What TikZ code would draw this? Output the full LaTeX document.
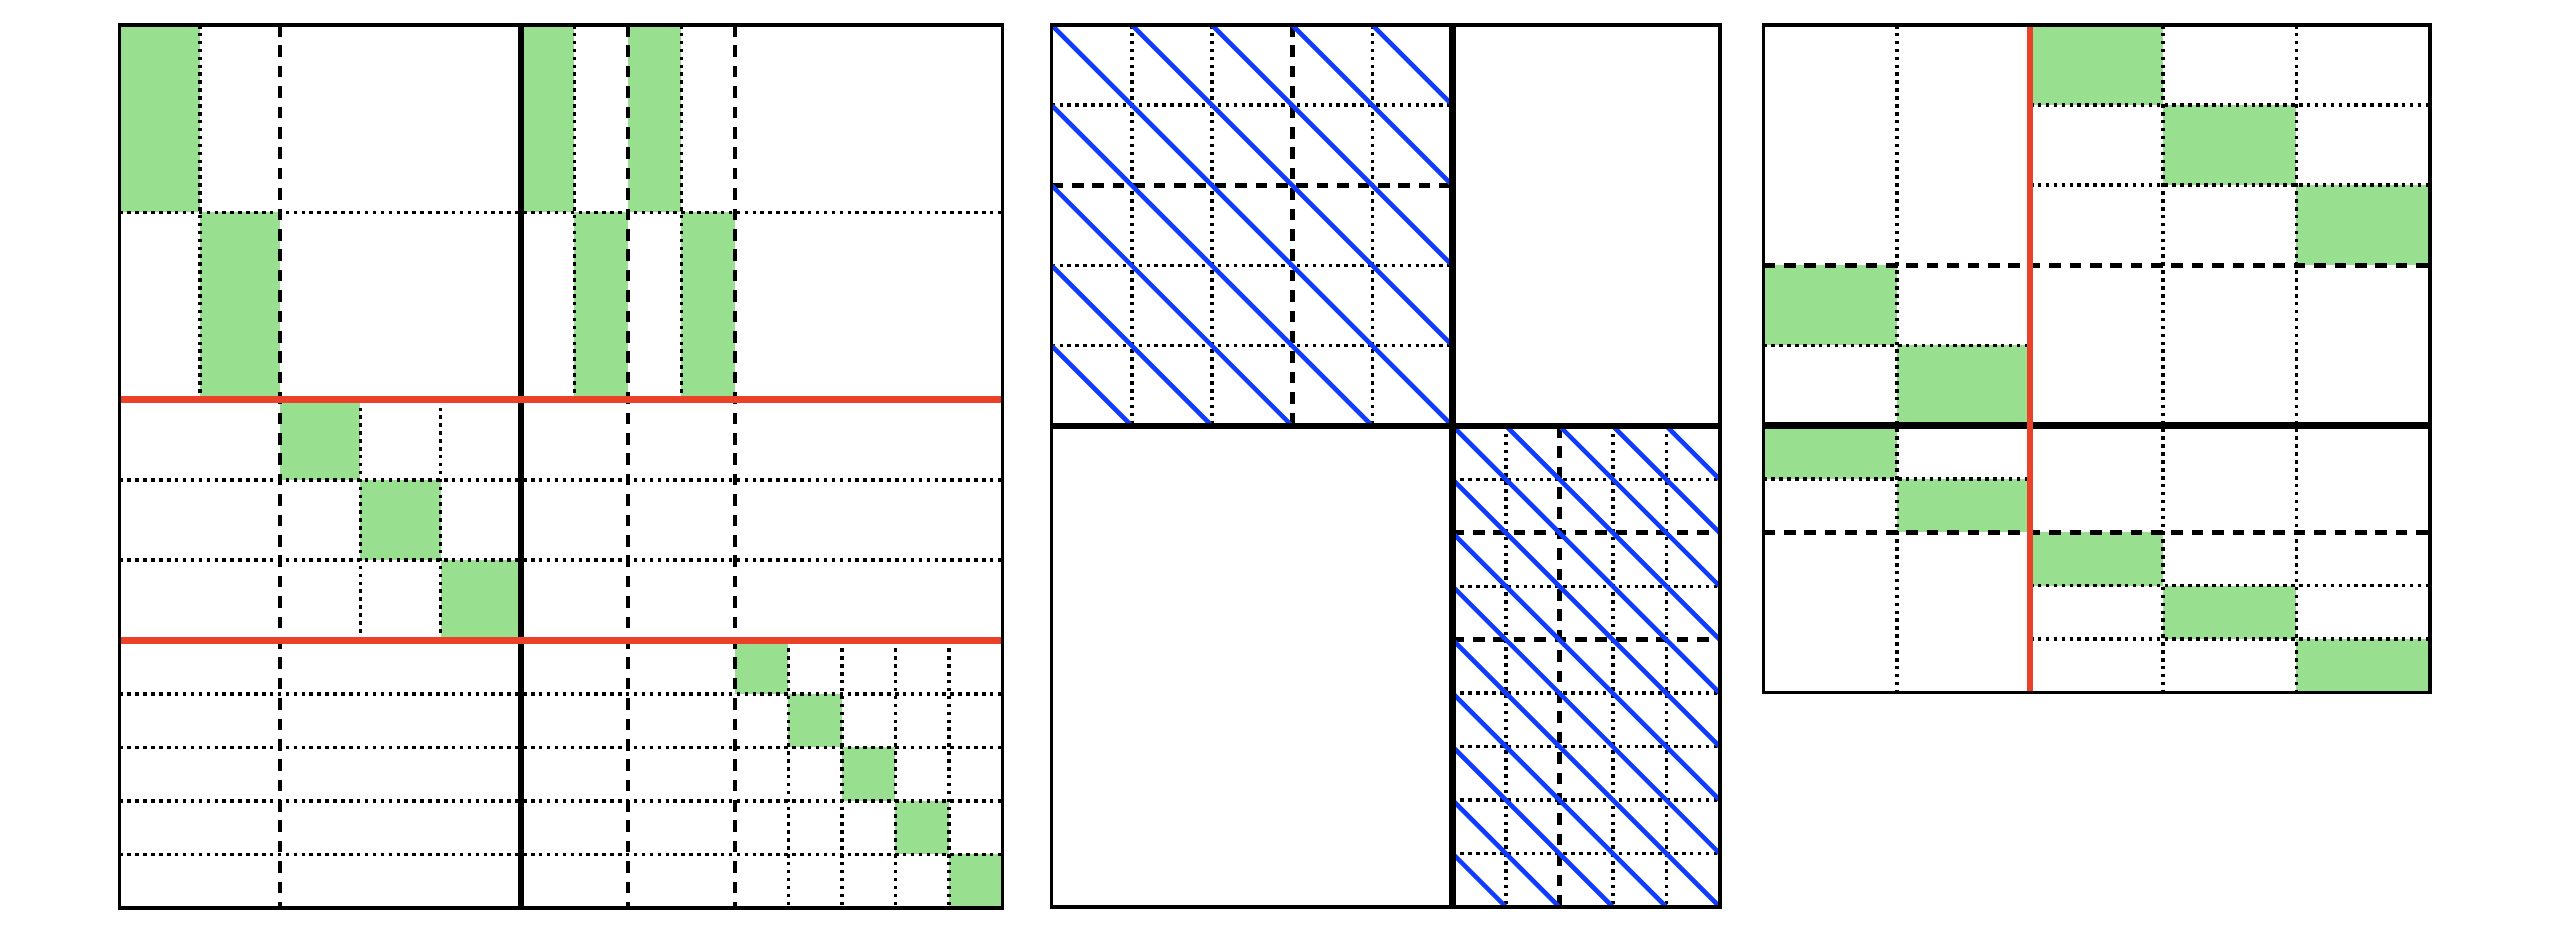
\documentclass[tikz,border=0pt]{standalone}
\definecolor{mygreen}{RGB}{152,224,144}
\definecolor{myred}{RGB}{234,65,40}
\definecolor{myblue}{RGB}{16,60,255}
\tikzset{
  dotln/.style={line width=1.0pt, dash pattern=on 1.0pt off 1.25pt},
  dashln/.style={line width=1.35pt, dash pattern=on 3.3pt off 2.5pt},
  bord/.style={line width=1.05pt},
  thickln/.style={line width=1.8pt},
  redln/.style={line width=1.8pt, draw=myred},
  blueln/.style={line width=1.3pt, draw=myblue},
  gfill/.style={fill=mygreen}
}
\begin{document}
\begin{tikzpicture}[x=0.01cm,y=-0.01cm]
\useasboundingbox (0,0) rectangle (2558,924);
\fill[white] (0,0) rectangle (2558,924);

% ---------- Panel 1 ----------
\begin{scope}[shift={(1.195cm,-0.25cm)}, x=0.2674cm, y=-0.2674cm]
  \foreach \a/\b/\c/\d in {0/0/3/7, 15/0/17/7, 19/0/21/7, 3/7/6/14, 17/7/19/14, 21/7/23/14,
      6/14/9/17, 9/17/12/20, 12/20/15/23, 23/23/25/25, 25/25/27/27, 27/27/29/29, 29/29/31/31, 31/31/33/33}
    \fill[gfill] (\a,\b) rectangle (\c,\d);
  \foreach \y in {7,17,20,25,27,29,31} \draw[dotln] (0,\y) -- (33,\y);
  \foreach \x in {3,17,21} \draw[dotln] (\x,0) -- (\x,14);
  \foreach \x in {9,12} \draw[dotln] (\x,14) -- (\x,23);
  \foreach \x in {25,27,29,31} \draw[dotln] (\x,23) -- (\x,33);
  \foreach \x in {6,19,23} \draw[dashln] (\x,0) -- (\x,33);
  \draw[thickln] (15,0) -- (15,33);
  \foreach \y in {14,23} \draw[redln] (0,\y) -- (33,\y);
  \draw[bord] (0,0) rectangle (33,33);
\end{scope}

% ---------- Panel 2 ----------
\begin{scope}[shift={(10.51cm,-0.25cm)}, x=0.2671cm, y=-0.2671cm]
  \foreach \x in {3,6,12} \draw[dotln] (\x,0) -- (\x,15);
  \foreach \y in {3,9,12} \draw[dotln] (0,\y) -- (15,\y);
  \draw[dashln] (9,0) -- (9,15);
  \draw[dashln] (0,6) -- (15,6);
  \foreach \x in {17,21,23} \draw[dotln] (\x,15) -- (\x,33);
  \draw[dashln] (19,15) -- (19,33);
  \foreach \y in {17,21,25,27,29,31} \draw[dotln] (15,\y) -- (25,\y);
  \foreach \y in {19,23} \draw[dashln] (15,\y) -- (25,\y);
  \begin{scope}
    \clip (0,0) rectangle (15,15);
    \foreach \m in {-12,-9,...,12} \draw[blueln] (0,\m) -- ++(20,20);
  \end{scope}
  \begin{scope}
    \clip (15,15) rectangle (25,33);
    \foreach \m in {-8,-6,...,16} \draw[blueln] (15,15+\m) -- ++(20,20);
  \end{scope}
  \draw[thickln] (15,0) -- (15,33);
  \draw[thickln] (0,15) -- (25,15);
  \draw[bord] (0,0) rectangle (25,33);
\end{scope}

% ---------- Panel 3 ----------
\begin{scope}[shift={(17.625cm,-0.25cm)}, x=0.2663cm, y=-0.2668cm]
  \foreach \a/\b/\c/\d in {10/0/15/3, 15/3/20/6, 20/6/25/9, 0/9/5/12, 5/12/10/15,
      0/15/5/17, 5/17/10/19, 10/19/15/21, 15/21/20/23, 20/23/25/25}
    \fill[gfill] (\a,\b) rectangle (\c,\d);
  \foreach \x in {5,15,20} \draw[dotln] (\x,0) -- (\x,25);
  \foreach \y in {3,6,21,23} \draw[dotln] (10,\y) -- (25,\y);
  \foreach \y in {12,17} \draw[dotln] (0,\y) -- (10,\y);
  \foreach \y in {9,19} \draw[dashln] (0,\y) -- (25,\y);
  \draw[thickln] (0,15) -- (25,15);
  \draw[redln] (10,0) -- (10,25);
  \draw[bord] (0,0) rectangle (25,25);
\end{scope}
\end{tikzpicture}
\end{document}
